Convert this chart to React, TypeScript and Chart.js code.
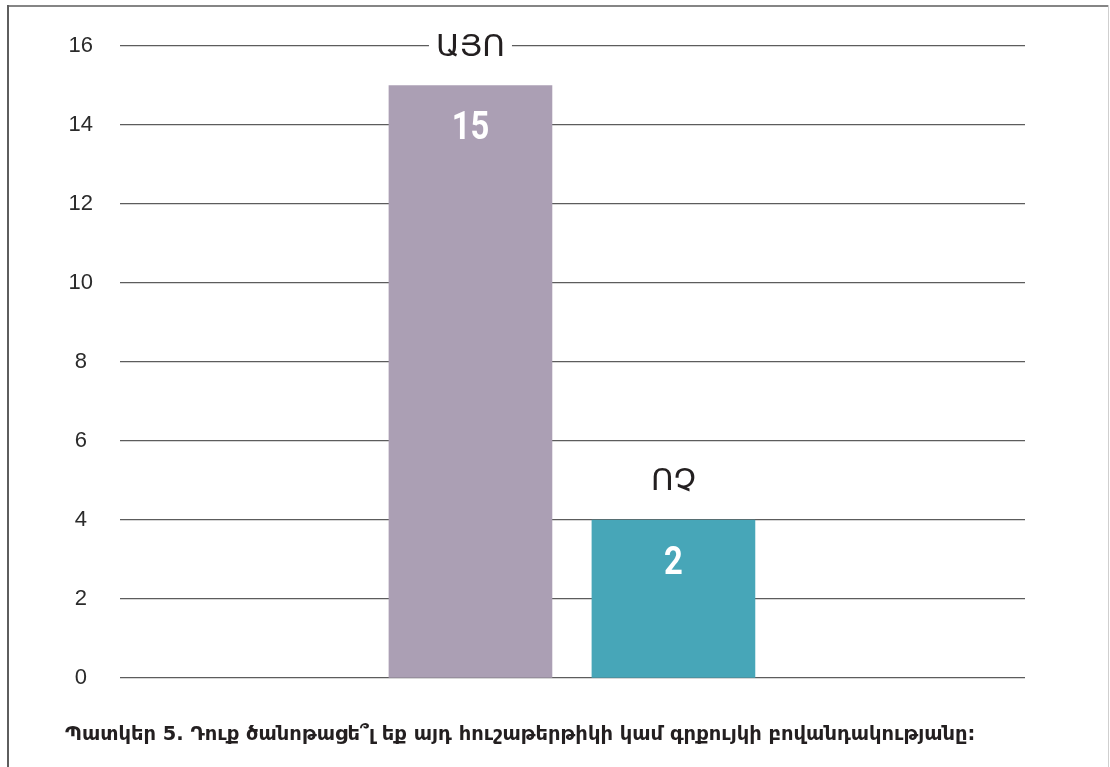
import React, { useEffect, useRef } from 'react';
import { Chart, registerables } from 'chart.js';

Chart.register(...registerables);

// ---- data ----
const categories: string[] = ['ԱՅՈ', 'ՈՉ'];
const categoryIndex: number[] = [0, 1];
const barValues: number[] = [15, 4];
const valueLabels: string[] = ['15', '2'];
const barColors: string[] = ['#ab9fb4', '#47a6b8'];
const yMin = 0;
const yMax = 16;
const yStep = 2;
const caption =
  'Պատկեր 5. Դուք ծանոթացե՞լ եք այդ հուշաթերթիկի կամ գրքույկի բովանդակությանը:';

const barLabelPlugin = {
  id: 'barLabels',
  afterDatasetsDraw(chart: any) {
    const ctx: CanvasRenderingContext2D = chart.ctx;
    const meta = chart.getDatasetMeta(0);
    meta.data.forEach((bar: any, i: number) => {
      const { x, y } = bar.getProps(['x', 'y'], true);
      ctx.save();
      ctx.textAlign = 'center';
      ctx.textBaseline = 'middle';
      // category label above the bar, on a white patch
      ctx.font = '31px "DejaVu Sans", sans-serif';
      const ly = y - 39;
      const w = ctx.measureText(categories[i]).width;
      ctx.fillStyle = '#ffffff';
      ctx.fillRect(x - w / 2 - 7, ly - 14, w + 14, 28);
      ctx.fillStyle = '#231f20';
      ctx.fillText(categories[i], x, ly + 1);
      // value label inside the bar (slightly condensed)
      ctx.translate(x, y + 44);
      ctx.scale(0.84, 1);
      ctx.font = 'bold 39px Roboto, "Liberation Sans", sans-serif';
      ctx.fillStyle = '#ffffff';
      ctx.fillText(valueLabels[i], 0, 0);
      ctx.restore();
    });
  },
};

export default function App() {
  const canvasRef = useRef<HTMLCanvasElement | null>(null);

  useEffect(() => {
    if (!canvasRef.current) return;
    const chart = new Chart(canvasRef.current, {
      type: 'bar',
      data: {
        datasets: [
          {
            data: categoryIndex.map((c, i) => ({ x: c, y: barValues[i] })),
            backgroundColor: barColors,
            borderWidth: 0,
            barThickness: 163,
          },
        ],
      },
      plugins: [barLabelPlugin],
      options: {
        animation: false,
        responsive: false,
        maintainAspectRatio: false,
        layout: { padding: { left: 0, right: 85, top: 46, bottom: 89 } },
        plugins: {
          legend: { display: false },
          tooltip: { enabled: false },
        },
        scales: {
          x: {
            type: 'linear',
            display: false,
            offset: false,
            bounds: 'data',
            min: -1.7266,
            max: 2.732,
          },
          y: {
            min: yMin,
            max: yMax,
            afterFit: (scale: any) => {
              scale.width = 120;
            },
            border: { display: false },
            grid: {
              color: '#5c5c5c',
              lineWidth: 1.3,
              drawTicks: false,
            },
            ticks: {
              stepSize: yStep,
              crossAlign: 'center',
              padding: 27,
              color: '#2b2b2b',
              font: { family: '"Liberation Sans", sans-serif', size: 22 },
            },
          },
        },
      },
    });
    return () => chart.destroy();
  }, []);

  return (
    <div
      style={{
        position: 'absolute',
        left: 0,
        top: 0,
        width: 1110,
        height: 767,
        background: '#ffffff',
        overflow: 'hidden',
      }}
    >
      <div
        style={{
          position: 'absolute',
          left: 7,
          top: 5,
          width: 1102,
          height: 2,
          background: '#858585',
        }}
      />
      <div
        style={{
          position: 'absolute',
          left: 7,
          top: 5,
          width: 2,
          height: 770,
          background: '#5e5e5e',
        }}
      />
      <div
        style={{
          position: 'absolute',
          left: 1108,
          top: 5,
          width: 1,
          height: 770,
          background: '#cfcfcf',
        }}
      />
      <canvas
        ref={canvasRef}
        width={1110}
        height={767}
        style={{ position: 'absolute', left: 0, top: 0, width: 1110, height: 767 }}
      />
      <div
        style={{
          position: 'absolute',
          left: 65,
          top: 721,
          whiteSpace: 'nowrap',
          fontFamily: '"DejaVu Sans", sans-serif',
          fontWeight: 'bold',
          fontSize: 19.5,
          lineHeight: '26px',
          color: '#231f20',
        }}
      >
        {caption}
      </div>
    </div>
  );
}
